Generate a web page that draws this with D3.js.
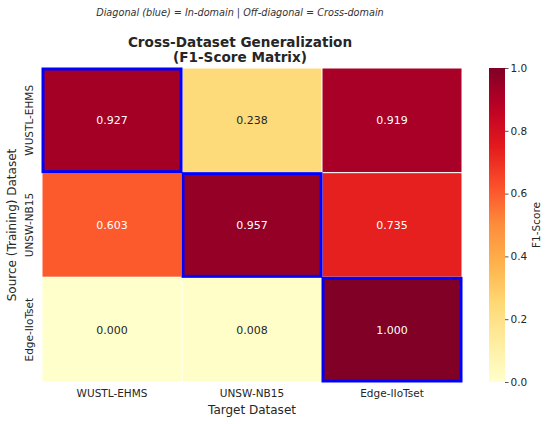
<!DOCTYPE html>
<html>
  <head>
    <meta charset="UTF-8">
    <title>Cross-Dataset Generalization</title>
    <script src="https://cdn.jsdelivr.net/npm/d3@7"></script>
    <style>
      body, html { margin:0; padding:0; background:#fff; }
      text { font-family: "DejaVu Sans", sans-serif; fill: #262626; }
    </style>
  </head>
  <body>
  <div id="chart"></div>
<script type="text/javascript">

var sources = ['WUSTL-EHMS', 'UNSW-NB15', 'Edge-IIoTset'];
var targets = ['WUSTL-EHMS', 'UNSW-NB15', 'Edge-IIoTset'];
// rows = source, cols = target
var f1 = [
  [0.927, 0.238, 0.919],
  [0.603, 0.957, 0.735],
  [0.000, 0.008, 1.000]
];
var cbarTicks = [0.0, 0.2, 0.4, 0.6, 0.8, 1.0];

var W = 550, H = 424;
var margin = { left: 42, top: 68, right: 88, bottom: 42 };
var pw = W - margin.left - margin.right,
    ph = H - margin.top - margin.bottom;

// matplotlib YlOrRd stops (linear segments)
var ylorrd = ['#ffffcc','#ffeda0','#fed976','#feb24c','#fd8d3c','#fc4e2a','#e31a1c','#bd0026','#800026'];
var color = d3.scaleLinear()
  .domain(d3.range(9).map(function(i){ return i/8; }))
  .range(ylorrd)
  .interpolate(d3.interpolateRgb)
  .clamp(true);

// relative luminance like seaborn does it
function relLum(c) {
  var rgb = d3.rgb(c);
  var lin = [rgb.r, rgb.g, rgb.b].map(function(v){
    v = v / 255;
    return v <= 0.03928 ? v / 12.92 : Math.pow((v + 0.055) / 1.055, 2.4);
  });
  return 0.2126*lin[0] + 0.7152*lin[1] + 0.0722*lin[2];
}

var svg = d3.select('#chart').append('svg').attr('width', W).attr('height', H);

var x = d3.scaleBand().domain(targets).range([margin.left, margin.left + pw]);
var y = d3.scaleBand().domain(sources).range([margin.top, margin.top + ph]);

var cells = [];
f1.forEach(function(row, i){
  row.forEach(function(v, j){ cells.push({ s: sources[i], t: targets[j], v: v, diag: i == j }); });
});

svg.selectAll('rect.cell').data(cells).enter().append('rect')
  .attr('class', 'cell')
  .attr('x', function(d){ return x(d.t); })
  .attr('y', function(d){ return y(d.s); })
  .attr('width', x.bandwidth())
  .attr('height', y.bandwidth())
  .attr('fill', function(d){ return color(d.v); })
  .attr('stroke', '#fff')
  .attr('stroke-width', 1);

svg.selectAll('text.val').data(cells).enter().append('text')
  .attr('class', 'val')
  .attr('x', function(d){ return x(d.t) + x.bandwidth()/2; })
  .attr('y', function(d){ return y(d.s) + y.bandwidth()/2; })
  .attr('dy', '0.35em')
  .attr('text-anchor', 'middle')
  .style('font-size', '11px')
  .style('fill', function(d){ return relLum(color(d.v)) > 0.408 ? '#262626' : '#ffffff'; })
  .text(function(d){ return d.v.toFixed(3); });

// blue borders on diagonal
svg.selectAll('rect.diag').data(cells.filter(function(d){ return d.diag; })).enter().append('rect')
  .attr('class', 'diag')
  .attr('x', function(d){ return x(d.t) + 1; })
  .attr('y', function(d){ return y(d.s) + 1; })
  .attr('width', x.bandwidth() - 2)
  .attr('height', y.bandwidth() - 2)
  .attr('fill', 'none')
  .attr('stroke', '#0000ff')
  .attr('stroke-width', 3);

// axes
var xAxis = svg.append('g').attr('transform', 'translate(0,' + (margin.top + ph) + ')')
  .call(d3.axisBottom(x).tickSize(0).tickPadding(8));
xAxis.select('.domain').remove();
xAxis.selectAll('text').style('font-size', '10.5px').style('fill', '#262626').attr('font-family', null);

var yAxis = svg.append('g').attr('transform', 'translate(' + margin.left + ',0)')
  .call(d3.axisLeft(y).tickSize(0).tickPadding(0));
yAxis.select('.domain').remove();
yAxis.selectAll('text')
  .style('font-size', '10.5px').style('fill', '#262626').attr('font-family', null)
  .attr('text-anchor', 'middle')
  .attr('x', 0).attr('dy', 0)
  .attr('transform', 'translate(-9,0) rotate(-90)');

svg.append('text')
  .attr('x', margin.left + pw/2).attr('y', 414)
  .attr('text-anchor', 'middle')
  .style('font-size', '12px')
  .text('Target Dataset');

svg.append('text')
  .attr('transform', 'translate(16,' + (margin.top + ph/2) + ') rotate(-90)')
  .attr('text-anchor', 'middle')
  .style('font-size', '12px')
  .text('Source (Training) Dataset');

// titles
svg.append('text')
  .attr('x', 240).attr('y', 16)
  .attr('text-anchor', 'middle')
  .style('font-size', '9.7px').style('font-style', 'italic')
  .style('fill', '#333')
  .text('Diagonal (blue) = In-domain | Off-diagonal = Cross-domain');

svg.append('text')
  .attr('x', 240).attr('y', 47)
  .attr('text-anchor', 'middle')
  .style('font-size', '13.6px').style('font-weight', 'bold')
  .text('Cross-Dataset Generalization');
svg.append('text')
  .attr('x', 240).attr('y', 62)
  .attr('text-anchor', 'middle')
  .style('font-size', '13.6px').style('font-weight', 'bold')
  .text('(F1-Score Matrix)');

// colorbar
var cbX = 489, cbW = 16;
var cbY = d3.scaleLinear().domain([0, 1]).range([margin.top + ph, margin.top]);
var defs = svg.append('defs');
var grad = defs.append('linearGradient').attr('id', 'cbgrad')
  .attr('x1', 0).attr('y1', 1).attr('x2', 0).attr('y2', 0);
grad.selectAll('stop').data(d3.range(0, 1.0001, 0.05)).enter().append('stop')
  .attr('offset', function(d){ return d; })
  .attr('stop-color', function(d){ return color(d); });

svg.append('rect')
  .attr('x', cbX).attr('y', margin.top)
  .attr('width', cbW).attr('height', ph)
  .attr('fill', 'url(#cbgrad)');

var cAxis = svg.append('g').attr('transform', 'translate(' + (cbX + cbW) + ',0)')
  .call(d3.axisRight(cbY).tickValues(cbarTicks).tickFormat(d3.format('.1f')).tickSize(3.5).tickPadding(2));
cAxis.select('.domain').remove();
cAxis.selectAll('line').attr('stroke', '#262626').attr('stroke-width', 0.8);
cAxis.selectAll('text').style('font-size', '10.5px').style('fill', '#262626').attr('font-family', null);

svg.append('text')
  .attr('transform', 'translate(540,' + (margin.top + ph/2) + ') rotate(-90)')
  .attr('text-anchor', 'middle')
  .style('font-size', '10.5px')
  .text('F1-Score');

</script>
  </body>
</html>
